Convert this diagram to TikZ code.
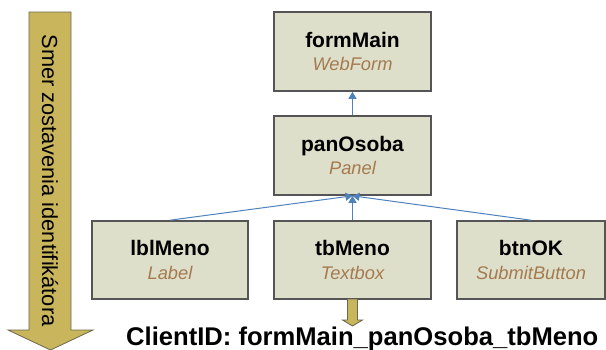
\documentclass[tikz,border=0pt]{standalone}
\usepackage{fontspec}
\setmainfont{Liberation Sans}
\usetikzlibrary{arrows.meta,calc}

\definecolor{boxfill}{HTML}{DDDFCB}
\definecolor{boxline}{HTML}{555555}
\definecolor{typebrown}{HTML}{A47A4E}
\definecolor{linkblue}{HTML}{4F81BD}
\definecolor{goldfill}{HTML}{C9B55C}
\definecolor{goldline}{HTML}{6A6650}

\tikzset{
  ctrlbox/.style={draw=boxline, line width=1.6pt, fill=boxfill,
    minimum width=157pt, minimum height=79pt, inner sep=0pt,
    align=center, font=\fontsize{21}{23.3}\selectfont\bfseries},
  link/.style={draw=linkblue, line width=1pt,
    -{Triangle[width=8pt,length=7pt]}},
  goldarrow/.style={draw=goldline, line width=0.8pt, fill=goldfill},
}
\newcommand{\ctype}[1]{{\fontsize{18.3}{20}\selectfont\mdseries\itshape\color{typebrown}#1}}

\begin{document}
\begin{tikzpicture}[x=1pt,y=-1pt]
  \useasboundingbox (0,0) rectangle (606,349);

  % control tree
  \node[ctrlbox] (formMain) at (352.5,51.5) {formMain\\\ctype{WebForm}};
  \node[ctrlbox] (panOsoba) at (352.5,155.5) {panOsoba\\\ctype{Panel}};
  \node[ctrlbox, minimum width=156pt, minimum height=78pt] (lblMeno) at (170,260) {lblMeno\\\ctype{Label}};
  \node[ctrlbox, minimum height=78pt] (tbMeno) at (352.5,260) {tbMeno\\\ctype{Textbox}};
  \node[ctrlbox, minimum width=148pt, minimum height=78pt] (btnOK) at (531,260) {btnOK\\\ctype{SubmitButton}};

  % parent links
  \draw[link] (panOsoba.north) -- (formMain.south);
  \draw[link] (lblMeno.north) -- (panOsoba.south);
  \draw[link] (tbMeno.north) -- (panOsoba.south);
  \draw[link] (btnOK.north) -- (panOsoba.south);

  % resulting client id
  \node[anchor=base west, inner sep=0pt, font=\fontsize{25.6}{27}\selectfont\bfseries]
    (clientid) at (126,345) {ClientID: formMain\_panOsoba\_tbMeno};

  % short arrow from tbMeno down to the client id
  \coordinate (tbfoot) at ($(tbMeno.south)+(0,-0.8)$);
  \draw[goldarrow]
    ($(tbfoot)+(-5,0)$) -- ($(tbfoot)+(5,0)$) -- ($(tbfoot)+(5,21)$)
    -- ($(tbfoot)+(10,21)$) -- ($(tbfoot)+(0,27)$) -- ($(tbfoot)+(-10,21)$)
    -- ($(tbfoot)+(-5,21)$) -- cycle;

  % build direction arrow
  \draw[goldarrow]
    (29,12) -- (71,12) -- (71,330) -- (93,330) -- (50.5,350)
    -- (8,330) -- (29,330) -- cycle;
  \node[rotate=-90, inner sep=0pt, font=\fontsize{21.8}{23}\selectfont]
    (direction) at (50,180.5) {Smer zostavenia identifikátora};
\end{tikzpicture}
\end{document}
